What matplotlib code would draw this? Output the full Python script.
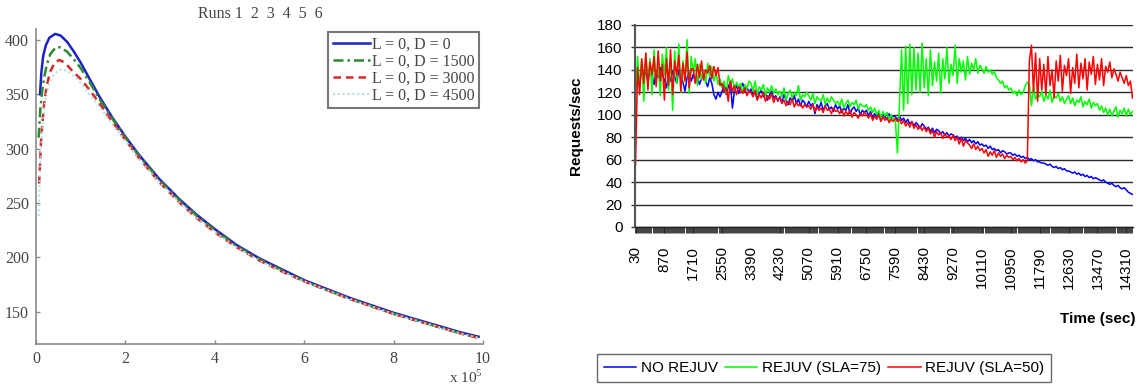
import numpy as np
import matplotlib
matplotlib.use("Agg")
import matplotlib.pyplot as plt
from matplotlib.ticker import FixedLocator

# ---------------- Left chart data (x in units of 1e5) ----------------
d0_x = [0.09, 0.12, 0.16, 0.22, 0.3, 0.43, 0.55, 0.7, 0.85, 1.0, 1.2, 1.43, 1.7, 2.0, 2.29, 2.76,
        3.22, 3.6, 4.0, 4.5, 5.0, 5.5, 6.0, 6.5, 7.0, 7.5, 8.0, 8.5, 9.0, 9.5, 9.9]
d0_y = [350, 370, 385, 395, 402, 405.5, 404, 398, 389, 379, 364, 347, 329, 311, 295, 272,
        253, 239, 226, 211, 199, 189, 179, 171, 163, 156, 149, 143, 137, 131, 127]

d1500_x = [0.06, 0.08, 0.1, 0.13, 0.18, 0.24, 0.32, 0.45, 0.55, 0.7, 0.85, 1.0, 1.2, 1.43, 1.7, 2.0,
           2.29, 2.76, 3.22, 3.6, 4.0, 4.5, 5.0, 5.5, 6.0, 6.5, 7.0, 7.5, 8.0, 8.5, 9.0, 9.5, 9.9]
d1500_y = [310, 325, 338, 350, 365, 377, 387, 393.5, 393, 389, 382, 374, 361, 345, 328, 310,
           294, 271, 252, 238, 225, 210, 198, 188, 178, 170, 162, 155, 148, 142, 136, 130, 126]

d3000_x = [0.07, 0.09, 0.11, 0.14, 0.18, 0.24, 0.32, 0.42, 0.52, 0.65, 0.8, 1.0, 1.2, 1.43, 1.7, 2.0,
           2.29, 2.76, 3.22, 3.6, 4.0, 4.5, 5.0, 5.5, 6.0, 6.5, 7.0, 7.5, 8.0, 8.5, 9.0, 9.5, 9.9]
d3000_y = [268, 285, 305, 322, 340, 358, 371, 379, 381.5, 379, 372, 364, 354, 341, 325, 308,
           292, 269, 250, 236, 223, 209, 197, 187, 178, 170, 162, 155, 148, 142, 136, 130, 126]

d4500_x = [0.06, 0.08, 0.1, 0.13, 0.17, 0.22, 0.3, 0.4, 0.5, 0.6, 0.75, 0.9, 1.05, 1.2, 1.43, 1.7,
           2.0, 2.29, 2.76, 3.22, 3.6, 4.0, 4.5, 5.0, 5.5, 6.0, 6.5, 7.0, 7.5, 8.0, 8.5, 9.0, 9.5, 9.9]
d4500_y = [238, 265, 290, 312, 332, 348, 360, 368, 372, 373, 370, 365, 358, 350, 338, 323,
           307, 291, 269, 250, 236, 223, 209, 197, 187, 178, 170, 162, 155, 148, 142, 136, 130, 126]

left_labels = ["L = 0, D = 0", "L = 0, D = 1500", "L = 0, D = 3000", "L = 0, D = 4500"]
left_xticks = [0, 2, 4, 6, 8, 10]
left_yticks = [150, 200, 250, 300, 350, 400]

# ---------------- Right chart data (every 60 s from t = 30 s) ----------------
no_rejuv = [
    122, 136, 128, 140, 133, 138, 130, 141, 135, 127, 139, 133, 142, 136,
    131, 124, 137, 130, 139, 134, 128, 140, 135, 129, 121, 133, 138, 130,
    136, 129, 134, 127, 132, 137, 130, 125, 133, 128, 118, 114, 120, 116,
    121, 127, 118, 125, 129, 106, 122, 126, 119, 124, 128, 121, 125, 120,
    123, 117, 121, 114, 119, 122, 116, 120, 113, 118, 121, 115, 117, 112,
    116, 111, 118, 113, 109, 115, 112, 117, 110, 114, 108, 113, 111, 107,
    112, 108, 110, 101, 109, 106, 111, 104, 108, 110, 105, 107, 103, 109,
    105, 108, 102, 106, 104, 109, 101, 105, 107, 103, 106, 100, 104, 102,
    104, 99, 103, 97, 101, 98, 102, 95, 100, 98, 96, 101, 97, 99,
    98, 96, 99, 95, 97, 93, 96, 92, 94, 90, 93, 91, 88, 92,
    90, 87, 89, 85, 88, 84, 87, 86, 83, 85, 82, 84, 81, 83,
    82, 80, 81, 78, 80, 77, 79, 76, 78, 75, 77, 74, 76, 73,
    74, 72, 73, 70, 72, 69, 70, 68, 69, 66, 68, 67, 65, 66,
    66, 64, 65, 63, 64, 62, 63, 61, 62, 60, 61, 59, 60, 58,
    58, 57, 57, 56, 55, 56, 54, 53, 54, 52, 53, 51, 52, 50,
    50, 49, 48, 49, 47, 48, 46, 47, 45, 46, 44, 45, 43, 44,
    43, 42, 41, 42, 40, 39, 38, 39, 37, 36, 37, 35, 34, 35,
    33, 31, 30, 29]

rejuv_sla75 = [
    118, 152, 125, 148, 112, 155, 130, 150, 118, 158, 128, 146, 117, 154,
    135, 160, 122, 150, 104, 157, 128, 163, 120, 148, 131, 167, 119, 152,
    138, 150, 126, 145, 132, 140, 128, 146, 134, 143, 130, 138, 127, 132,
    124, 130, 119, 135, 127, 132, 122, 129, 125, 128, 120, 127, 123, 130,
    128, 121, 130, 118, 125, 122, 127, 117, 124, 120, 126, 119, 123, 118,
    121, 116, 124, 113, 119, 122, 115, 120, 117, 126, 113, 118, 116, 120,
    117, 113, 119, 110, 116, 114, 112, 118, 109, 115, 111, 116, 113, 110,
    112, 108, 114, 106, 110, 113, 107, 111, 109, 113, 105, 110, 108, 107,
    109, 104, 107, 102, 106, 100, 104, 97, 103, 99, 102, 95, 100, 96,
    95, 66, 110, 158, 104, 161, 110, 163, 118, 160, 122, 155, 120, 164,
    124, 150, 117, 158, 126, 147, 130, 155, 119, 150, 132, 160, 128, 145,
    135, 162, 128, 150, 138, 148, 131, 152, 136, 146, 140, 150, 137, 144,
    141, 137, 143, 138, 140, 136, 139, 133, 131, 128, 130, 124, 126, 122,
    124, 119, 121, 117, 122, 118, 120, 126, 129, 127, 108, 125, 114, 118,
    116, 121, 112, 118, 114, 122, 111, 117, 115, 119, 112, 116, 110, 114,
    117, 110, 115, 108, 113, 111, 116, 107, 112, 109, 114, 106, 111, 108,
    110, 104, 108, 102, 106, 100, 105, 99, 103, 107, 98, 104, 101, 106,
    99, 105, 100, 103]

rejuv_sla50 = [
    55, 142, 118, 150, 128, 155, 122, 147, 136, 152, 125, 157, 130, 145,
    113, 150, 126, 158, 118, 148, 135, 153, 121, 146, 130, 156, 124, 141,
    141, 128, 145, 133, 148, 131, 140, 137, 144, 132, 143, 135, 142, 126,
    128, 120, 124, 112, 130, 121, 126, 118, 125, 122, 119, 124, 117, 121,
    120, 116, 122, 113, 118, 115, 120, 112, 117, 114, 119, 111, 116, 113,
    115, 110, 113, 108, 112, 109, 114, 107, 111, 108, 110, 106, 109, 107,
    108, 105, 109, 103, 107, 104, 106, 102, 108, 104, 105, 101, 106, 103,
    104, 101, 105, 99, 103, 100, 104, 98, 102, 100, 97, 101, 99, 102,
    100, 97, 101, 95, 99, 96, 100, 94, 98, 95, 97, 93, 96, 94,
    97, 94, 96, 92, 95, 90, 93, 89, 94, 88, 91, 87, 90, 86,
    89, 85, 88, 83, 86, 80, 85, 82, 84, 79, 83, 80, 81, 78,
    82, 77, 80, 74, 79, 72, 77, 75, 73, 70, 74, 69, 72, 68,
    70, 66, 69, 63, 67, 64, 68, 62, 66, 63, 65, 61, 64, 62,
    63, 60, 62, 59, 61, 58, 60, 57, 59, 148, 162, 120, 155, 112,
    150, 122, 145, 118, 152, 126, 140, 115, 148, 130, 153, 121, 144, 135,
    150, 119, 142, 128, 154, 124, 146, 132, 150, 122, 147, 136, 152, 127,
    145, 131, 150, 126, 143, 138, 147, 133, 141, 136, 130, 138, 133, 128,
    135, 126, 130, 115]

times = np.arange(30, 30 + 60 * len(no_rejuv), 60)
time_ticks = [30, 870, 1710, 2550, 3390, 4230, 5070, 5910, 6750, 7590, 8430,
              9270, 10110, 10950, 11790, 12630, 13470, 14310]
right_yticks = [0, 20, 40, 60, 80, 100, 120, 140, 160, 180]
right_labels = ["NO REJUV", "REJUV (SLA=75)", "REJUV (SLA=50)"]

# ---------------- Figure ----------------
W, H = 1137, 387
fig = plt.figure(figsize=(W / 100, H / 100), dpi=100)
fig.patch.set_facecolor("white")

def ax_rect(x0, y0, x1, y1):
    return [x0 / W, 1 - y1 / H, (x1 - x0) / W, (y1 - y0) / H]

# ---- Left chart ----
serif = "Liberation Serif"
axL = fig.add_axes(ax_rect(36, 29, 483, 344))
axL.plot(d0_x, d0_y, color="#1c22c4", lw=1.8, ls="-", label=left_labels[0])
axL.plot(d1500_x, d1500_y, color="#2e8a32", lw=1.8, ls=(0, (4, 1.6, 1, 1.6)), label=left_labels[1])
axL.plot(d3000_x, d3000_y, color="#d42a2a", lw=1.8, ls=(0, (3, 2)), label=left_labels[2])
axL.plot(d4500_x, d4500_y, color="#a6e0e0", lw=1.4, ls=(0, (1, 1.5)), label=left_labels[3])
axL.set_xlim(0, 10)
axL.set_ylim(120.3, 410)
axL.set_xticks(left_xticks)
axL.set_yticks(left_yticks)
for s in ["top", "right"]:
    axL.spines[s].set_visible(False)
for s in ["left", "bottom"]:
    axL.spines[s].set_color("#8a8a8a")
    axL.spines[s].set_linewidth(1.2)
axL.tick_params(direction="in", length=3, width=1, colors="#8a8a8a", labelcolor="#444444",
                labelsize=11.5, pad=5)
for lab in axL.get_xticklabels() + axL.get_yticklabels():
    lab.set_fontfamily(serif)
legL = axL.legend(loc="upper right", bbox_to_anchor=(0.992, 0.99), frameon=True, fancybox=False,
                  prop={"family": serif, "size": 11.5}, handlelength=2.3, handletextpad=0.15,
                  labelspacing=0.05, borderpad=0.3, borderaxespad=0.0)
legL.get_frame().set_edgecolor("#555555")
legL.get_frame().set_linewidth(1.5)
for t in legL.get_texts():
    t.set_color("#444444")
fig.text(260 / W, 1 - 14 / H, "Runs 1  2  3  4  5  6", ha="center", va="center",
         family=serif, size=11.5, color="#444444")
fig.text(466 / W, 1 - 377 / H, r"x 10$^{\mathregular{5}}$", ha="center", va="center",
         family=serif, size=11, color="#444444")

# ---- Right chart ----
sans = "Liberation Sans"
axR = fig.add_axes(ax_rect(635, 25, 1133, 227))
axR.plot(times, no_rejuv, color="#0000ff", lw=1.1, label=right_labels[0])
axR.plot(times, rejuv_sla75, color="#00ff00", lw=1.1, label=right_labels[1])
axR.plot(times, rejuv_sla50, color="#ff0000", lw=1.1, label=right_labels[2])
axR.set_xlim(15, 14505)
axR.set_ylim(0, 180)
axR.set_yticks(right_yticks)
axR.grid(axis="y", color="#2a2a2a", lw=1.0)
axR.set_axisbelow(True)
axR.set_xticks(time_ticks)
axR.set_xticklabels([str(t) for t in time_ticks], rotation=90, family=sans, size=11)
axR.xaxis.set_minor_locator(FixedLocator(np.arange(15, 14505, 30)))
axR.tick_params(axis="x", which="both", direction="out", length=4, width=0.6, color="#222222",
                pad=10)
axR.tick_params(axis="y", direction="out", length=3, width=1, color="#333333", labelsize=11, pad=6)
for lab in axR.get_yticklabels():
    lab.set_fontfamily(sans)
for s in ["top", "right"]:
    axR.spines[s].set_visible(False)
axR.spines["left"].set_color("#555555")
axR.spines["left"].set_linewidth(1.5)
axR.spines["bottom"].set_color("#222222")
axR.spines["bottom"].set_linewidth(1.0)
axR.set_ylabel("Requests/sec", family=sans, weight="bold", size=11, labelpad=10)
fig.text(1135 / W, 1 - 319 / H, "Time (sec)", ha="right", va="center", family=sans,
         weight="bold", size=11)
legR = fig.legend(*axR.get_legend_handles_labels(), loc="upper left",
                  bbox_to_anchor=(597 / W, 1 - 354 / H), ncol=3, frameon=True, fancybox=False,
                  prop={"family": sans, "size": 11}, handlelength=2.1, handletextpad=0.3,
                  columnspacing=0.5, borderpad=0.45, borderaxespad=0.0)
legR.get_frame().set_edgecolor("#444444")
legR.get_frame().set_linewidth(1.0)

fig.savefig("out.png", dpi=100, facecolor="white")
